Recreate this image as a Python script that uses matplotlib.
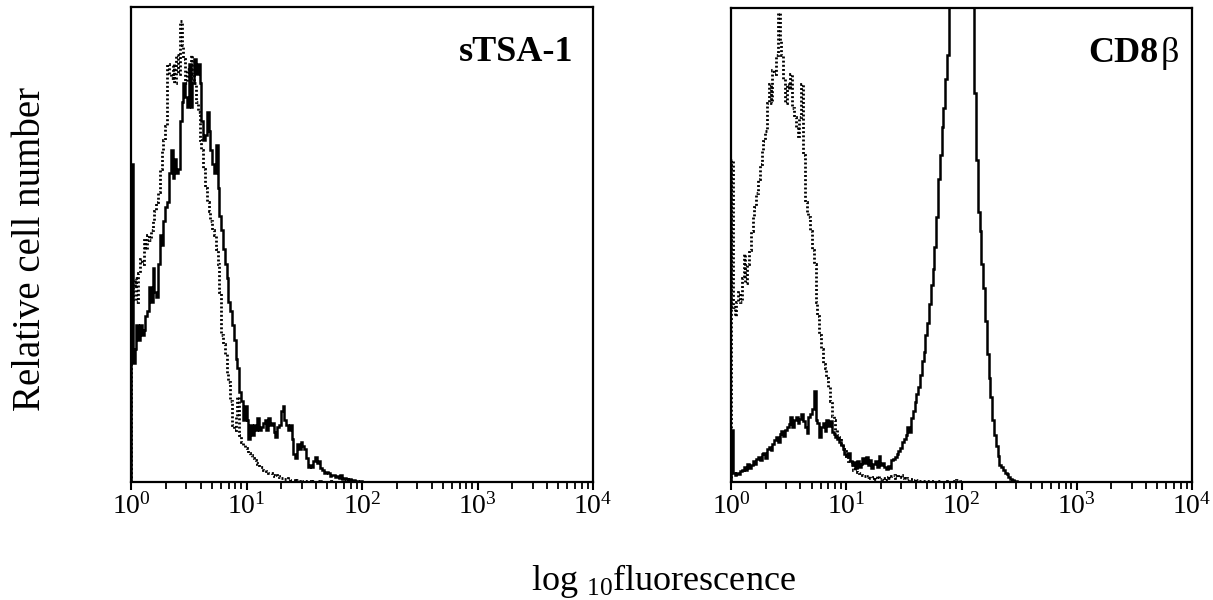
import numpy as np
import matplotlib
matplotlib.use("Agg")
import matplotlib.pyplot as plt
from matplotlib.ticker import FixedLocator, LogLocator, NullFormatter

plt.rcParams['font.family'] = 'serif'
plt.rcParams['font.serif'] = ['Liberation Serif', 'DejaVu Serif']
plt.rcParams['mathtext.fontset'] = 'custom'
plt.rcParams['mathtext.rm'] = 'Liberation Serif'
plt.rcParams['mathtext.it'] = 'Liberation Serif:italic'
plt.rcParams['mathtext.bf'] = 'Liberation Serif:bold'

# ---------------- data (relative cell number per channel, 64 channels / decade) ----
channels_per_decade = 64
n_channels = 256

left_control = [38, 41, 43, 38, 44, 47, 46, 51, 49, 52,
                51, 53, 55, 57, 59, 61, 66, 70, 72, 75,
                88, 86, 85, 88, 84, 90, 86, 97, 92, 89,
                84, 87, 85, 90, 86, 84, 80, 78, 72, 70,
                66, 62, 59, 57, 55, 53, 52, 49, 46, 40,
                31, 29, 27, 23, 21, 17, 12, 11, 14, 18,
                10, 8.5, 7.8, 7.2, 6.7, 6.2, 5.6, 5.0, 4.6, 4.0,
                3.8, 3.2, 3.1, 2.6, 2.5, 2.4, 2.0, 1.8, 1.5, 1.3,
                1.4, 1.2, 1.0, 0.9, 0.8, 0.7, 0.6, 0.9, 0.5, 0.4,
                0.5, 0.3, 0.4, 0.3, 0.5, 0.2, 0.3, 0.2, 0.3, 0.2,
                0.1, 0.2, 0.1, 0.2, 0.1, 0.1, 0.2, 0.1, 0.1, 0.1,
                0.1, 0.2, 0.1, 0.1, 0.1, 0.1, 0.1, 0.1, 0.1, 0.1]

left_stained = [67, 25, 28, 33, 30, 33, 31, 32, 35, 36,
                41, 38, 45, 40, 39, 46, 52, 50, 55, 58,
                59, 65, 70, 64, 68, 65, 66, 76, 80, 84,
                81, 79, 88, 79, 84, 89, 86, 88, 84, 76,
                72, 73, 78, 74, 70, 67, 65, 71, 62, 56,
                53, 49, 46, 43, 38, 36, 33, 30, 26, 24,
                19, 17, 13, 16, 13, 9, 12, 10, 12, 11,
                13.5, 11, 11.5, 12.5, 13, 11, 13.5, 12, 12.5, 10.5,
                9.5, 11.5, 12, 15, 16, 13, 12, 11, 12, 9,
                6, 5, 8, 7, 8.5, 7.5, 7, 5, 3.2, 3.5,
                3.2, 4.5, 5.2, 4, 4.5, 3, 2.5, 1.8, 2.2, 1.8,
                1.2, 1.5, 1.4, 1.0, 1.3, 0.9, 1.4, 0.6, 0.8, 0.7,
                0.5, 0.6, 0.3, 0.4, 0.2, 0.3, 0.1, 0.2, 0.1, 0.1,
                0.1, 0.1, 0.1, 0.1, 0.1, 0.1]

right_control = [68, 37, 35, 38, 40, 38, 43, 48, 42, 46,
                 49, 53, 56, 58, 61, 64, 67, 70, 72, 74,
                 80, 84, 80, 87, 86, 90, 99, 93, 90, 85,
                 80, 84, 83, 86, 79, 77, 75, 73, 77, 84,
                 69, 59, 57, 56, 53, 49, 46, 38, 35, 31,
                 28, 25, 24, 22, 20, 17, 14, 13, 11, 10,
                 9.5, 8, 7, 6.5, 5.5, 4.5, 4.2, 3.5, 2.5, 2.8,
                 2.2, 1.8, 2.0, 1.5, 1.2, 1.0, 1.3, 0.9, 0.8, 1.0,
                 0.7, 1.2, 0.8, 0.6, 0.9, 0.5, 1.0, 1.3, 0.8, 1.2,
                 1.4, 0.9, 1.3, 1.0, 1.5, 0.9, 0.6, 0.8, 0.5, 0.7,
                 0.6, 0.4, 0.6, 0.5, 0.3, 0.3, 0.2, 0.3, 0.2, 0.2,
                 0.3, 0.2, 0.2, 0.1, 0.2, 0.2, 0.1, 0.2, 0.1, 0.1,
                 0.2, 0.1, 0.1, 0.2, 0.3, 0.5, 0.4, 0.2, 0.1, 0.1,
                 0.1, 0.1, 0.1, 0.1, 0.1, 0.1, 0.1, 0.1, 0.1, 0.1]

right_stained = [11, 1.8, 1.5, 2.0, 1.6, 2.3, 2.5, 3.2, 2.6, 3.8,
                 3.0, 3.5, 4.5, 3.9, 4.8, 5.3, 4.6, 5.9, 6.2, 5.0,
                 7.0, 7.4, 6.8, 8.1, 8.8, 9.5, 8.5, 10.2, 10.8, 9.8,
                 10.9, 11.5, 12.2, 13.7, 11.5, 13.0, 13.8, 12.5, 13.2, 14.4,
                 12.8, 11.5, 10.3, 13.8, 14.4, 15.5, 19.3, 13.0, 12.5, 9.5,
                 11.6, 12.5, 10.8, 13.0, 11.8, 12.8, 10.5, 10.2, 9.5, 9.0,
                 8.5, 7.8, 7.0, 6.0, 5.5, 6.2, 4.5, 3.5, 4.2, 3.0,
                 4.5, 3.2, 3.8, 5.0, 4.0, 5.3, 3.5, 4.6, 3.0, 3.8,
                 4.5, 3.2, 5.5, 3.5, 4.0, 3.2, 2.8, 3.4, 3.0, 4.6,
                 4.8, 5.3, 6.0, 6.5, 7.2, 8.5, 9.0, 10.0, 11.5, 10.5,
                 13.5, 15.0, 16.8, 18.5, 20.0, 22.5, 25.5, 27.5, 31.0, 33.5,
                 37.5, 41.5, 45.0, 49.5, 56.0, 64.0, 69.0, 75.0, 79.0, 85.0,
                 90.0, 140, 140, 140, 140, 140, 140, 140, 140, 140,
                 140, 140, 140, 140, 140, 82, 68, 57, 53, 46,
                 41, 34, 27, 22, 18, 13, 10, 7.5, 5.5, 3.5,
                 3.2, 2.5, 2.0, 1.6, 1.0, 0.6, 0.4, 0.3, 0.2, 0.1,
                 0.1, 0.1, 0.1, 0.1, 0.1]

panel_titles = ["sTSA-1", "CD8"]
tick_values = [1, 10, 100, 1000, 10000]
tick_labels = [r"$\mathdefault{10^{0}}$", r"$\mathdefault{10^{1}}$", r"$\mathdefault{10^{2}}$",
               r"$\mathdefault{10^{3}}$", r"$\mathdefault{10^{4}}$"]
y_label = "Relative cell number"
x_label = r"log $_{\mathdefault{10}}$fluorescence"

# ---------------- figure ----------------
W, H = 1213, 600
fig = plt.figure(figsize=(W / 100, H / 100), dpi=100)

edges = 10.0 ** (np.arange(n_channels + 1) / channels_per_decade)


def pad(vals):
    v = np.zeros(n_channels)
    v[:len(vals)] = vals
    return v


def style_axes(ax):
    ax.set_xscale('log')
    ax.set_xlim(1, 10000)
    ax.set_ylim(0, 100)
    ax.set_yticks([])
    ax.xaxis.set_major_locator(FixedLocator(tick_values))
    ax.set_xticklabels(tick_labels)
    ax.xaxis.set_minor_locator(LogLocator(base=10, subs=np.arange(2, 10), numticks=20))
    ax.xaxis.set_minor_formatter(NullFormatter())
    ax.tick_params(axis='x', which='major', direction='out', length=6, width=1.5,
                   labelsize=20, pad=2, colors='black')
    ax.tick_params(axis='x', which='minor', direction='out', length=5, width=1.3)
    for s in ax.spines.values():
        s.set_linewidth(1.6)
        s.set_color('black')


ax1 = fig.add_axes([131 / W, 1 - 482 / H, 462 / W, 475 / H])
ax2 = fig.add_axes([731 / W, 1 - 482 / H, 461 / W, 474 / H])

for ax, ctrl, stain in [(ax1, left_control, left_stained), (ax2, right_control, right_stained)]:
    ax.stairs(pad(ctrl), edges, baseline=0, color='black', lw=2.0, linestyle=(0, (0.7, 0.8)))
    ax.stairs(pad(stain), edges, baseline=0, color='black', lw=1.8)
    style_axes(ax)

ax1.text(0.957, 0.905, panel_titles[0], transform=ax1.transAxes, ha='right', va='center',
         fontsize=26, fontweight='bold')
ax2.text(0.928, 0.905, panel_titles[1], transform=ax2.transAxes, ha='right', va='center',
         fontsize=26, fontweight='bold')
ax2.text(0.972, 0.905, "\u03b2", transform=ax2.transAxes, ha='right', va='center',
         fontsize=26)

fig.text(0.025, 0.585, y_label, rotation=90, ha='center', va='center', fontsize=28)
fig.text(0.5466, 0.0175, x_label, ha='center', va='baseline', fontsize=26)

fig.savefig("out.png", dpi=100)
